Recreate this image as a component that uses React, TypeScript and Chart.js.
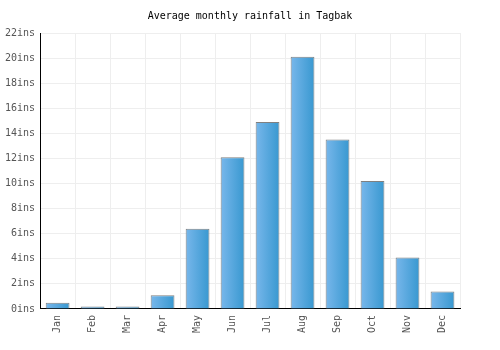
import React, { useEffect, useRef } from "react";
import { Chart, registerables } from "chart.js";
Chart.register(...registerables);

const months = ["Jan", "Feb", "Mar", "Apr", "May", "Jun", "Jul", "Aug", "Sep", "Oct", "Nov", "Dec"];
const rainfall = [0.5, 0.2, 0.2, 1.1, 6.4, 12.1, 14.9, 20.1, 13.5, 10.2, 4.1, 1.4];
const yTicks = [0, 2, 4, 6, 8, 10, 12, 14, 16, 18, 20, 22];
const titleText = "Average monthly rainfall in Tagbak";

const FONT = "'DejaVu Sans Mono', monospace";

const titlePlugin = {
  id: "centerTitle",
  afterDraw(chart: any) {
    const ctx = chart.ctx;
    ctx.save();
    ctx.font = `10px ${FONT}`;
    ctx.fillStyle = "#000";
    ctx.textAlign = "center";
    ctx.textBaseline = "middle";
    ctx.fillText(titleText, chart.width / 2, 16);
    ctx.restore();
  },
};

export default function App() {
  const ref = useRef<HTMLCanvasElement>(null);
  useEffect(() => {
    if (!ref.current) return;
    const chart = new Chart(ref.current, {
      type: "bar",
      data: {
        labels: months,
        datasets: [
          {
            data: rainfall,
            backgroundColor: (c: any) => {
              const ch = c.chart;
              if (!ch.chartArea || !ch.scales.x) return "#5aa8df";
              const x = ch.scales.x.getPixelForValue(c.dataIndex);
              const w = ch.scales.x.width / months.length * 0.68;
              const g = ch.ctx.createLinearGradient(x - w / 2, 0, x + w / 2, 0);
              g.addColorStop(0, "#78b7eb");
              g.addColorStop(1, "#3898d0");
              return g;
            },
            borderColor: "#808080",
            borderWidth: 1,
            categoryPercentage: 0.68,
            barPercentage: 1,
          },
        ],
      },
      plugins: [titlePlugin],
      options: {
        animation: false,
        responsive: false,
        layout: { padding: { left: 0, right: 40, top: 33, bottom: 11 } },
        plugins: {
          legend: { display: false },
          tooltip: { enabled: false },
          title: { display: false },
        },
        scales: {
          x: {
            grid: { color: "#eeeeee", offset: true, drawTicks: false },
            border: { color: "#000", width: 1 },
            ticks: {
              color: "#555",
              font: { family: FONT, size: 10 },
              minRotation: 90,
              maxRotation: 90,
              padding: 6,
            },
          },
          y: {
            min: 0,
            max: 22,
            afterBuildTicks: (s: any) => {
              s.ticks = yTicks.map((v) => ({ value: v }));
            },
            grid: { color: "#eeeeee", drawTicks: false },
            border: { color: "#000", width: 1 },
            ticks: {
              color: "#555",
              font: { family: FONT, size: 10 },
              padding: 5,
              callback: (v: any) => v + "ins",
            },
          },
        },
      },
    });
    return () => chart.destroy();
  }, []);
  return (
    <div style={{ position: "fixed", left: 0, top: 0, width: 500, height: 350, background: "#fff" }}>
      <canvas ref={ref} width={500} height={350} />
    </div>
  );
}
